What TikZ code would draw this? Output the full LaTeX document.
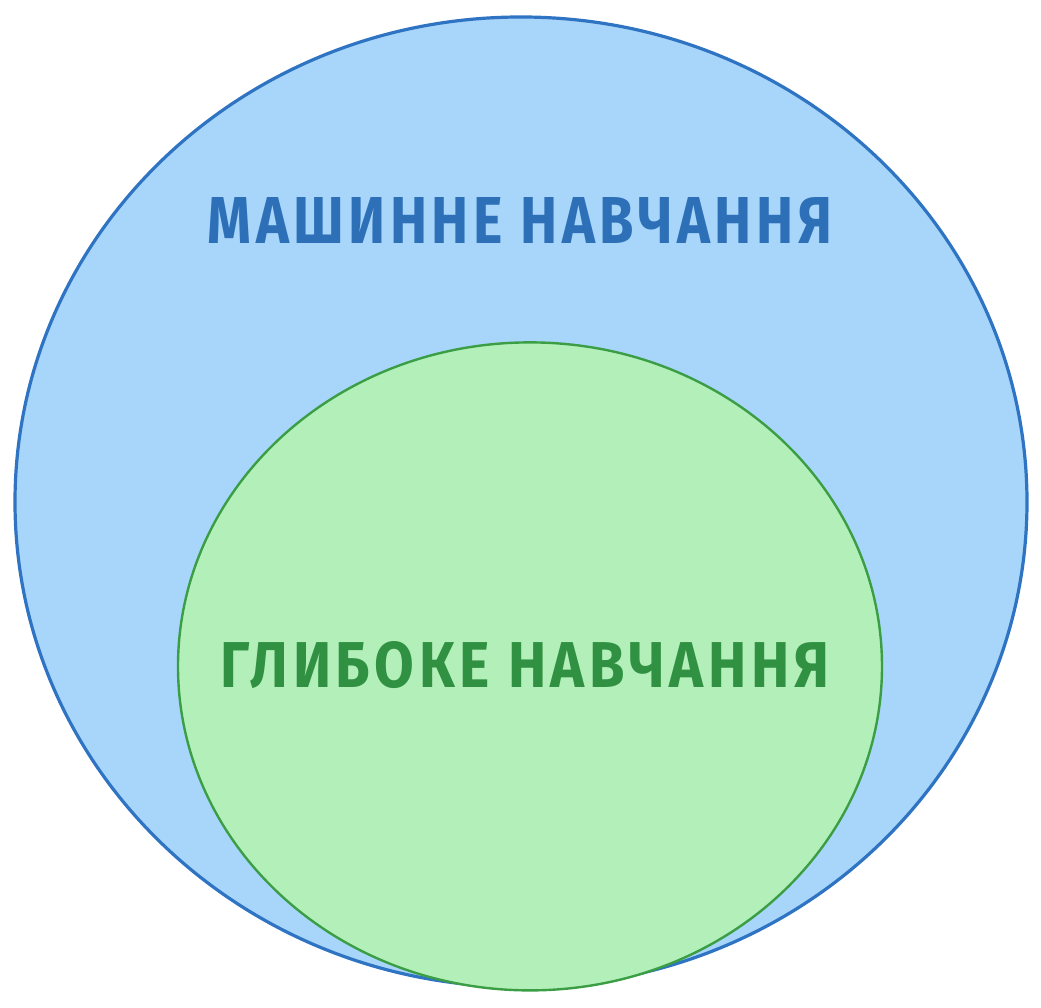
\documentclass[tikz,border=0pt]{standalone}
\usepackage{fontspec}
\setmainfont{Fira Sans}[LetterSpace=8]
\usepackage{xcolor}
\usetikzlibrary{shapes.geometric}
\definecolor{mlfill}{HTML}{A8D5FA}
\definecolor{mlline}{HTML}{2E74C2}
\definecolor{mltext}{HTML}{2D70B8}
\definecolor{dlfill}{HTML}{B3F0B9}
\definecolor{dlline}{HTML}{3B9E45}
\definecolor{dltext}{HTML}{2F9141}

\begin{document}
\begin{tikzpicture}[main/.style={draw,ellipse,inner sep=0pt},
  label/.style={inner sep=0pt,font=\bfseries}]
\useasboundingbox (0,0) rectangle (26.025,25.2);
\node[main,fill=mlfill,draw=mlline,line width=0.8mm,minimum width=25.3cm,minimum height=24.25cm] (ml) at (13.025,12.65) {};
\node[main,fill=dlfill,draw=dlline,line width=0.6mm,minimum width=17.6cm,minimum height=16.2cm] (dl) at (13.25,8.54) {};

\node[label,text=mltext] (mlt) at (13.0,19.68) {\resizebox{15.6cm}{1.15cm}{МАШИННЕ НАВЧАННЯ}};
\node[label,text=dltext] (dlt) at (13.125,8.58) {\resizebox{15.2cm}{1.15cm}{ГЛИБОКЕ НАВЧАННЯ}};
\end{tikzpicture}
\end{document}
